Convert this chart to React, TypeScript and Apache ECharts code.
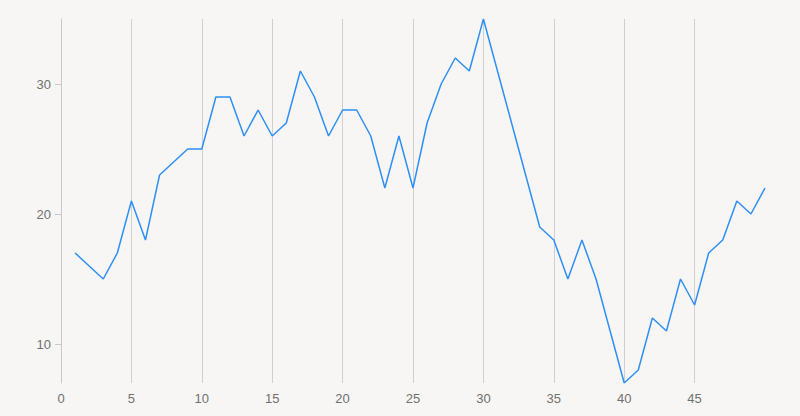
import React, { useEffect, useRef } from "react";
import * as echarts from "echarts";

const xValues = [
  1, 2, 3, 4, 5, 6, 7, 8, 9, 10, 11, 12, 13, 14, 15, 16, 17, 18, 19, 20, 21, 22, 23, 24, 25,
  26, 27, 28, 29, 30, 31, 32, 33, 34, 35, 36, 37, 38, 39, 40, 41, 42, 43, 44, 45, 46, 47, 48, 49, 50,
];
const yValues = [
  17, 16, 15, 17, 21, 18, 23, 24, 25, 25, 29, 29, 26, 28, 26, 27, 31, 29, 26, 28, 28, 26, 22, 26, 22,
  27, 30, 32, 31, 35, 31, 27, 23, 19, 18, 15, 18, 15, 11, 7, 8, 12, 11, 15, 13, 17, 18, 21, 20, 22,
];

export default function App() {
  const ref = useRef<HTMLDivElement>(null);
  useEffect(() => {
    if (!ref.current) return;
    const chart = echarts.init(ref.current, null, { renderer: "svg" });
    const data = xValues.map((x, i) => [x, yValues[i]]);
    chart.setOption({
      animation: false,
      backgroundColor: "#f7f6f4",
      grid: { left: 61, right: 35, top: 19, bottom: 33, containLabel: false },
      xAxis: {
        type: "value",
        min: 0,
        max: 50,
        interval: 5,
        axisLine: { show: false },
        axisTick: { show: false },
        splitLine: { show: true, showMaxLine: false, lineStyle: { color: "#d0d0d0", width: 1 } },
        axisLabel: {
          showMaxLabel: false,
          color: "#707070",
          fontSize: 13,
          fontFamily: "Liberation Sans, Arial, sans-serif",
          margin: 9,
        },
      },
      yAxis: {
        type: "value",
        min: 7,
        max: 35,
        splitNumber: 3,
        axisLine: { show: true, lineStyle: { color: "#c8c8c8" } },
        axisTick: { show: true, length: 6, lineStyle: { color: "#c8c8c8" } },
        splitLine: { show: false },
        axisLabel: {
          showMinLabel: false,
          showMaxLabel: false,
          color: "#707070",
          fontSize: 13,
          fontFamily: "Liberation Sans, Arial, sans-serif",
          margin: 10,
        },
      },
      series: [
        {
          type: "line",
          data,
          symbol: "none",
          lineStyle: { color: "#2e8ff5", width: 1.5 },
        },
      ],
    });
    return () => chart.dispose();
  }, []);
  return <div ref={ref} style={{ width: 800, height: 416, position: "fixed", left: 0, top: 0 }} />;
}
